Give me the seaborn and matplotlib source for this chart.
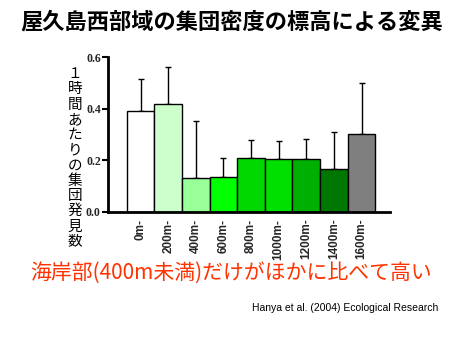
import matplotlib
matplotlib.use("Agg")
import matplotlib.pyplot as plt
import seaborn as sns
import pandas as pd

categories = ["0m", "200m", "400m", "600m", "800m", "1000m", "1200m", "1400m", "1600m"]
tick_labels = ["0m-", "200m-", "400m-", "600m-", "800m-", "1000m-", "1200m-", "1400m-", "1600m-"]
means = [0.392, 0.417, 0.130, 0.133, 0.207, 0.203, 0.203, 0.164, 0.300]
errors = [0.124, 0.143, 0.223, 0.074, 0.071, 0.071, 0.078, 0.144, 0.198]
colors = ["#ffffff", "#ccffcc", "#99ff99", "#00ff00", "#00d800", "#00e000", "#00b000", "#007700", "#7f7f7f"]
yticks = [0.0, 0.2, 0.4, 0.6]

title = "屋久島西部域の集団密度の標高による変異"
ylabel = "１時間あたりの集団発見数"
note = "海岸部(400m未満)だけがほかに比べて高い"
citation = "Hanya et al. (2004) Ecological Research"

sns.set_style("white")
plt.rcParams['font.family'] = ['Noto Sans CJK JP', 'DejaVu Sans']

df = pd.DataFrame({"alt": categories, "val": means})

fig = plt.figure(figsize=(4.6, 3.45), dpi=100)
ax = fig.add_axes([107.7 / 460, 1 - 211.7 / 345, (390 - 107.7) / 460, (211.7 - 57) / 345])

sns.barplot(data=df, x="alt", y="val", hue="alt", palette=colors, dodge=False, saturation=1,
            width=1.0, edgecolor="black", linewidth=1.0, legend=False, ax=ax, zorder=2)
ax.errorbar(range(len(categories)), means, yerr=[[0] * len(errors), errors],
            fmt="none", ecolor="black", elinewidth=1.0, capsize=2.5, capthick=1.0, zorder=1)

ax.set_xlim(-1.19, 9.03)
ax.set_ylim(0, 0.6)
ax.set_yticks(yticks)
ax.set_yticklabels([f"{t:.1f}" for t in yticks], fontfamily="Liberation Serif",
                   fontweight="bold", fontsize=8.5)
ax.set_xticks(range(len(categories)))
ax.set_xticklabels(tick_labels, rotation=90, fontfamily="Liberation Sans",
                   fontweight="bold", fontsize=8.5, va="top")
ax.tick_params(axis="x", length=0, pad=5)
ax.tick_params(axis="y", direction="out", length=4, width=1.5, pad=1, left=True, color="black")
ax.set_xlabel("")
ax.set_ylabel("")
for s in ["top", "right"]:
    ax.spines[s].set_visible(False)
for s in ["left", "bottom"]:
    ax.spines[s].set_color("black")
    ax.spines[s].set_linewidth(2)

fig.text(232 / 460, 1 - 22 / 345, title, ha="center", va="center", fontsize=16, fontweight="bold", color="black")

# vertical (stacked) y-axis label
y_top, y_bot = 74.0, 241.7
step = (y_bot - y_top) / (len(ylabel) - 1)
for i, ch in enumerate(ylabel):
    fig.text(75 / 460, 1 - (y_top + i * step) / 345, ch, ha="center", va="center",
             fontsize=10.5, color="black")

fig.text(231 / 460, 1 - 273 / 345, note, ha="center", va="center", fontsize=15, color="#ff3300")
fig.text(438 / 460, 1 - 308 / 345, citation, ha="right", va="center", fontsize=7.5,
         fontfamily="Liberation Sans", color="black")

fig.savefig("out.png", dpi=100)
